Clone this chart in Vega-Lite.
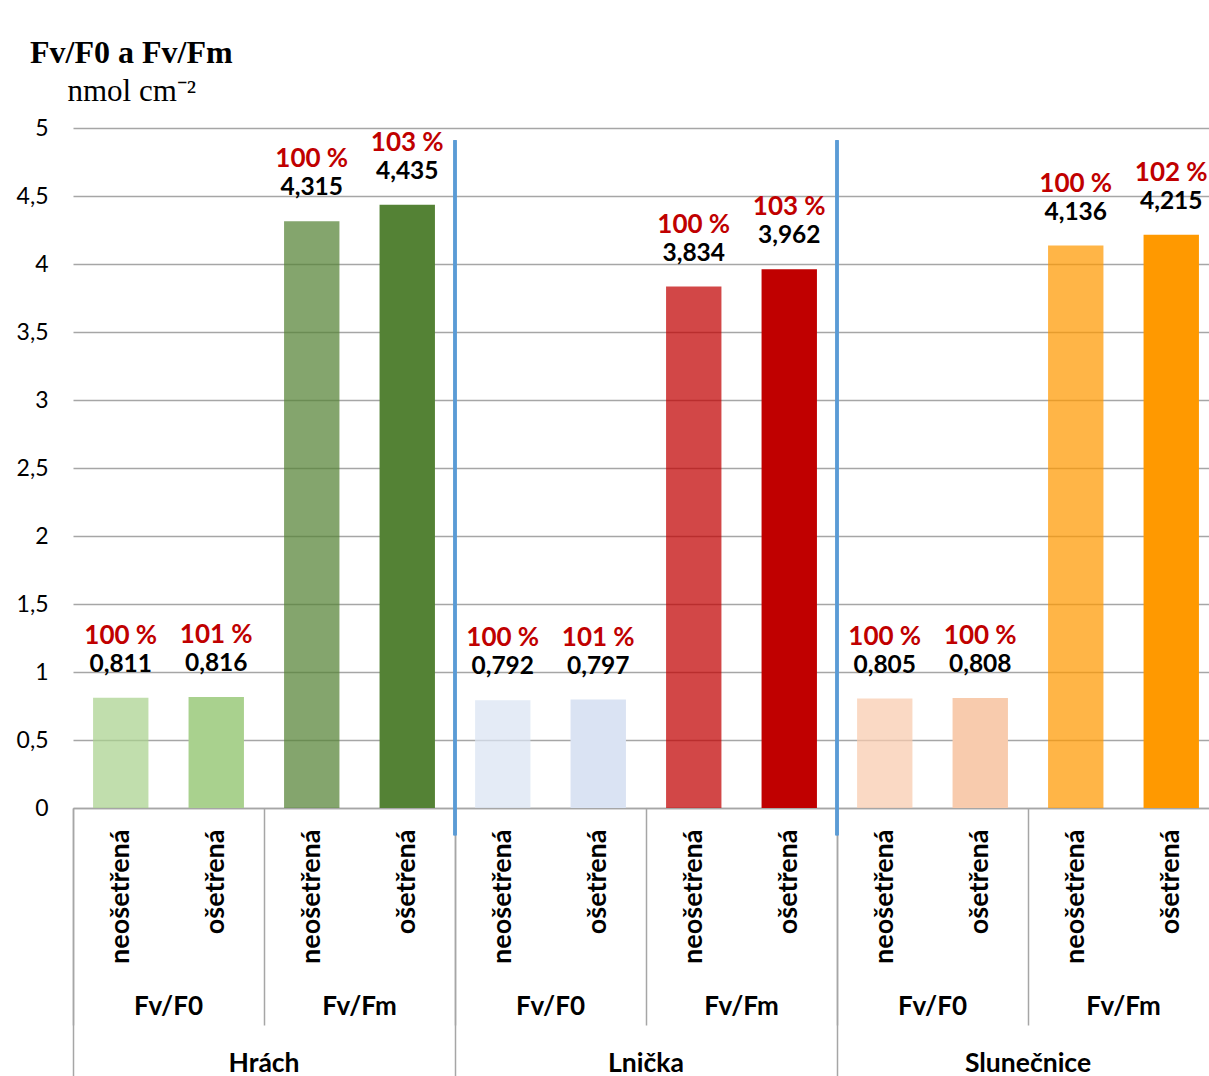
{
  "$schema": "https://vega.github.io/schema/vega-lite/v6.json",
  "autosize": {"type": "none"},
  "padding": {"left": 73, "top": 128, "right": -10, "bottom": 268},
  "width": 1146,
  "height": 680,
  "background": "white",
  "config": {
    "locale": {"number": {"decimal": ",", "thousands": " ", "grouping": [3], "currency": ["", " Kč"]}},
    "view": {"stroke": null},
    "font": "Lato"
  },
  "title": {
    "text": "Fv/F0 a Fv/Fm",
    "anchor": "start",
    "frame": "group",
    "dx": -43,
    "font": "Liberation Serif",
    "fontSize": 32,
    "fontWeight": "bold",
    "color": "black",
    "offset": 5
  },
  "data": {
    "values": [
      {"plant": "Hrách", "measure": "Fv/F0", "treatment": "neošetřená", "pm": "Hrách|Fv/F0", "key": "Hrách|Fv/F0|neošetřená", "value": 0.811, "pct": "100 %"},
      {"plant": "Hrách", "measure": "Fv/F0", "treatment": "ošetřená", "pm": "Hrách|Fv/F0", "key": "Hrách|Fv/F0|ošetřená", "value": 0.816, "pct": "101 %"},
      {"plant": "Hrách", "measure": "Fv/Fm", "treatment": "neošetřená", "pm": "Hrách|Fv/Fm", "key": "Hrách|Fv/Fm|neošetřená", "value": 4.315, "pct": "100 %"},
      {"plant": "Hrách", "measure": "Fv/Fm", "treatment": "ošetřená", "pm": "Hrách|Fv/Fm", "key": "Hrách|Fv/Fm|ošetřená", "value": 4.435, "pct": "103 %"},
      {"plant": "Lnička", "measure": "Fv/F0", "treatment": "neošetřená", "pm": "Lnička|Fv/F0", "key": "Lnička|Fv/F0|neošetřená", "value": 0.792, "pct": "100 %"},
      {"plant": "Lnička", "measure": "Fv/F0", "treatment": "ošetřená", "pm": "Lnička|Fv/F0", "key": "Lnička|Fv/F0|ošetřená", "value": 0.797, "pct": "101 %"},
      {"plant": "Lnička", "measure": "Fv/Fm", "treatment": "neošetřená", "pm": "Lnička|Fv/Fm", "key": "Lnička|Fv/Fm|neošetřená", "value": 3.834, "pct": "100 %"},
      {"plant": "Lnička", "measure": "Fv/Fm", "treatment": "ošetřená", "pm": "Lnička|Fv/Fm", "key": "Lnička|Fv/Fm|ošetřená", "value": 3.962, "pct": "103 %"},
      {"plant": "Slunečnice", "measure": "Fv/F0", "treatment": "neošetřená", "pm": "Slunečnice|Fv/F0", "key": "Slunečnice|Fv/F0|neošetřená", "value": 0.805, "pct": "100 %"},
      {"plant": "Slunečnice", "measure": "Fv/F0", "treatment": "ošetřená", "pm": "Slunečnice|Fv/F0", "key": "Slunečnice|Fv/F0|ošetřená", "value": 0.808, "pct": "100 %"},
      {"plant": "Slunečnice", "measure": "Fv/Fm", "treatment": "neošetřená", "pm": "Slunečnice|Fv/Fm", "key": "Slunečnice|Fv/Fm|neošetřená", "value": 4.136, "pct": "100 %"},
      {"plant": "Slunečnice", "measure": "Fv/Fm", "treatment": "ošetřená", "pm": "Slunečnice|Fv/Fm", "key": "Slunečnice|Fv/Fm|ošetřená", "value": 4.215, "pct": "102 %"}
    ]
  },
  "resolve": {"scale": {"x": "independent"}, "axis": {"x": "independent"}},
  "layer": [
    {
      "encoding": {
        "x": {
          "field": "key", "type": "nominal", "sort": null,
          "scale": {"paddingInner": 0.42, "paddingOuter": 0.21},
          "axis": {
            "orient": "bottom", "title": null,
            "labelExpr": "split(datum.label, '|')[2]",
            "labelAngle": 270, "labelAlign": "right", "labelBaseline": "middle",
            "ticks": false, "domain": true, "domainColor": "#a6a6a6", "domainWidth": 1.5,
            "labelPadding": 21, "labelFont": "Lato", "labelFontSize": 27, "labelFontWeight": "bold", "labelColor": "black",
            "grid": false, "labelOverlap": false
          }
        },
        "y": {
          "field": "value", "type": "quantitative",
          "scale": {"domain": [0, 5], "nice": false, "zero": true},
          "axis": {
            "title": "nmol cm⁻²", "titleAngle": 0, "titleAlign": "left", "titleBaseline": "alphabetic",
            "titleX": -6, "titleY": -28, "titleFont": "Liberation Serif", "titleFontSize": 31, "titleFontWeight": "normal", "titleColor": "black",
            "values": [0, 0.5, 1, 1.5, 2, 2.5, 3, 3.5, 4, 4.5, 5], "format": ".1~f",
            "ticks": false, "domain": false, "grid": true, "gridColor": "#a6a6a6", "gridWidth": 1.5,
            "labelPadding": 25, "labelFont": "Lato", "labelFontSize": 23, "labelColor": "black"
          }
        }
      },
      "layer": [
        {
          "mark": {"type": "bar"},
          "encoding": {
            "color": {
              "field": "pm", "type": "nominal", "legend": null,
              "scale": {
                "domain": ["Hrách|Fv/F0", "Hrách|Fv/Fm", "Lnička|Fv/F0", "Lnička|Fv/Fm", "Slunečnice|Fv/F0", "Slunečnice|Fv/Fm"],
                "range": ["#a9d18e", "#548235", "#dae3f3", "#c00000", "#f8cbad", "#ff9900"]
              }
            },
            "fillOpacity": {"condition": {"test": "datum.treatment == 'neošetřená'", "value": 0.72}, "value": 1}
          }
        },
        {
          "mark": {"type": "text", "dy": -33, "fontSize": 24.5, "fontWeight": "bold", "font": "Lato", "color": "black", "baseline": "middle"},
          "encoding": {"text": {"field": "value", "type": "quantitative", "format": ".3f"}}
        },
        {
          "mark": {"type": "text", "dy": -62, "fontSize": 26, "fontWeight": "bold", "font": "Lato", "color": "#c00000", "baseline": "middle"},
          "encoding": {"text": {"field": "pct", "type": "nominal"}}
        }
      ]
    },
    {
      "mark": {"type": "bar", "opacity": 0},
      "encoding": {
        "x": {
          "field": "pm", "type": "nominal", "sort": null,
          "scale": {"paddingInner": 0, "paddingOuter": 0},
          "axis": {
            "orient": "bottom", "title": null,
            "labelExpr": "split(datum.label, '|')[1]",
            "labelAngle": 0, "bandPosition": 0,
            "ticks": true, "tickSize": 217, "tickColor": "#a6a6a6", "tickWidth": 1.5,
            "domain": false, "grid": false,
            "labelPadding": -32, "labelBaseline": "top",
            "labelFont": "Lato", "labelFontSize": 26, "labelFontWeight": "bold", "labelColor": "black"
          }
        },
        "y": {"datum": 0, "type": "quantitative"}
      }
    },
    {
      "transform": [{"filter": "datum.plant != 'Hrách'"}],
      "mark": {"type": "rule", "color": "#5b9bd5", "strokeWidth": 3},
      "encoding": {
        "x": {
          "field": "plant", "type": "nominal", "bandPosition": 0,
          "scale": {"domain": ["Hrách", "Lnička", "Slunečnice"], "paddingInner": 0, "paddingOuter": 0},
          "axis": {
            "orient": "bottom", "title": null,
            "labelAngle": 0, "bandPosition": 0,
            "ticks": true, "tickSize": 268, "tickColor": "#a6a6a6", "tickWidth": 1.5,
            "domain": false, "grid": false,
            "labelPadding": -26, "labelBaseline": "top",
            "labelFont": "Lato", "labelFontSize": 26.5, "labelFontWeight": "bold", "labelColor": "black"
          }
        },
        "y": {"datum": 4.91, "type": "quantitative"},
        "y2": {"datum": -0.2}
      }
    }
  ]
}
